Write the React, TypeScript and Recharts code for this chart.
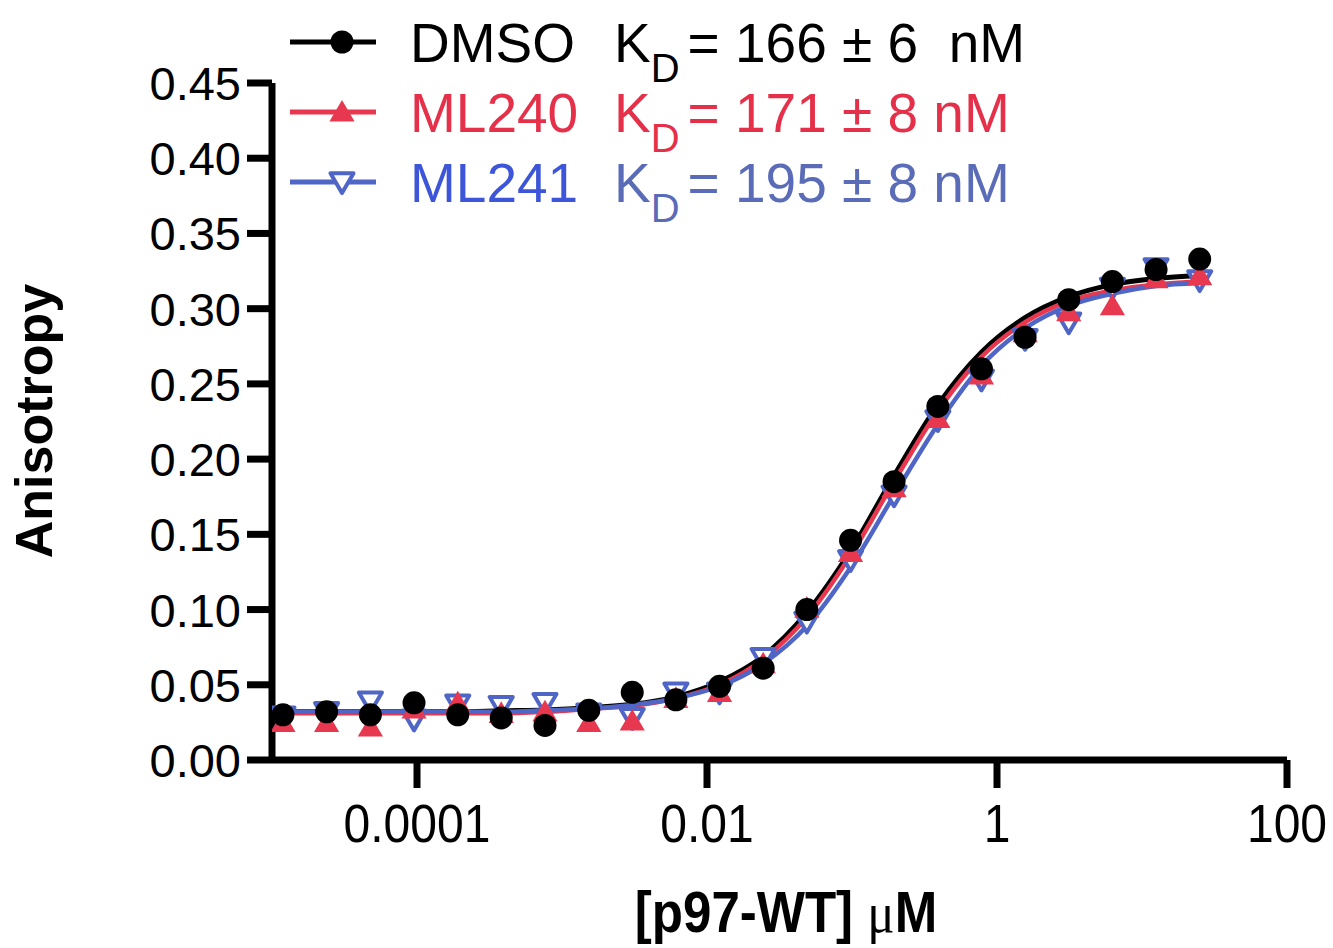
import React from 'react';
import { ComposedChart, XAxis, YAxis, Line } from 'recharts';

// p97-WT concentrations (µM), 2-fold dilution series, ascending
const concentrations = [0.0000119, 0.0000238, 0.0000477, 0.0000954, 0.000191, 0.000381, 0.000763, 0.00153, 0.00305, 0.0061, 0.0122, 0.0244, 0.0488, 0.0977, 0.195, 0.391, 0.781, 1.5625, 3.125, 6.25, 12.5, 25];

// measured anisotropy
const dmsoValues = [0.030, 0.032, 0.030, 0.038, 0.030, 0.028, 0.023, 0.033, 0.045, 0.040, 0.049, 0.061, 0.100, 0.146, 0.185, 0.235, 0.260, 0.281, 0.306, 0.318, 0.326, 0.333];
const ml240Values = [0.025, 0.025, 0.022, 0.034, 0.038, 0.031, 0.032, 0.025, 0.026, 0.041, 0.045, 0.064, 0.101, 0.138, 0.181, 0.227, 0.256, 0.284, 0.298, 0.302, 0.320, 0.322];
const ml241Values = [0.029, 0.032, 0.039, 0.027, 0.037, 0.036, 0.038, 0.031, 0.028, 0.045, 0.045, 0.068, 0.092, 0.133, 0.176, 0.226, 0.253, 0.280, 0.291, 0.314, 0.327, 0.319];

// fitted curves at each concentration
const dmsoFit = [0.032, 0.032, 0.032, 0.032, 0.032, 0.0327, 0.0333, 0.0347, 0.037, 0.042, 0.052, 0.069, 0.098, 0.139, 0.189, 0.236, 0.271, 0.294, 0.308, 0.316, 0.320, 0.322];
const ml240Fit = [0.031, 0.031, 0.031, 0.031, 0.031, 0.031, 0.032, 0.034, 0.036, 0.041, 0.050, 0.067, 0.095, 0.136, 0.185, 0.232, 0.268, 0.291, 0.305, 0.312, 0.316, 0.318];
const ml241Fit = [0.032, 0.032, 0.032, 0.032, 0.032, 0.032, 0.033, 0.034, 0.0365, 0.041, 0.049, 0.064, 0.089, 0.128, 0.176, 0.223, 0.262, 0.287, 0.302, 0.310, 0.315, 0.317];

const xTicks = [0.0001, 0.01, 1, 100];
const xTickLabels = ['0.0001', '0.01', '1', '100'];
const yTicks = [0, 0.05, 0.1, 0.15, 0.2, 0.25, 0.3, 0.35, 0.4, 0.45];

const seriesNames = ['DMSO', 'ML240', 'ML241'];
const kdLabels = ['= 166 ± 6  nM', '= 171 ± 8 nM', '= 195 ± 8 nM'];

const data = concentrations.map((x, i) => ({
  x,
  dmso: dmsoValues[i],
  ml240: ml240Values[i],
  ml241: ml241Values[i],
  dmsoFit: dmsoFit[i],
  ml240Fit: ml240Fit[i],
  ml241Fit: ml241Fit[i],
}));

const BLACK = '#000000';
const RED = '#e8384f';
const BLUE = '#4f66c6';
const FONT = '"Liberation Sans", Arial, Helvetica, sans-serif';

const CircleDot = (props: any) => {
  const { cx, cy } = props;
  if (cx == null || cy == null) return null;
  return <circle cx={cx} cy={cy} r={11.5} fill={BLACK} />;
};

const TriUp = (props: any) => {
  const { cx, cy } = props;
  if (cx == null || cy == null) return null;
  const s = 12;
  return <polygon points={`${cx},${cy - s} ${cx + s * 1.05},${cy + s * 0.8} ${cx - s * 1.05},${cy + s * 0.8}`} fill={RED} />;
};

const TriDown = (props: any) => {
  const { cx, cy } = props;
  if (cx == null || cy == null) return null;
  const s = 11;
  return <polygon points={`${cx - s * 1.05},${cy - s * 0.8} ${cx + s * 1.05},${cy - s * 0.8} ${cx},${cy + s}`} fill="#ffffff" stroke={BLUE} strokeWidth={4} strokeLinejoin="round" />;
};

const XTick = (props: any) => {
  const { x, y, payload } = props;
  const idx = xTicks.indexOf(payload.value);
  const label = idx >= 0 ? xTickLabels[idx] : String(payload.value);
  return (
    <text transform={`translate(${x},${y + 52}) scale(0.89,1)`} x={0} y={0} textAnchor="middle" fontSize={54} fontFamily={FONT} fill="#000">
      {label}
    </text>
  );
};

const YTick = (props: any) => {
  const { x, y, payload } = props;
  return (
    <text x={x} y={y + 17} textAnchor="end" fontSize={47} fontFamily={FONT} fill="#000">
      {Number(payload.value).toFixed(2)}
    </text>
  );
};

const legendColors = [BLACK, RED, BLUE];
const nameColors = [BLACK, '#e5304a', '#3d55d8'];
const kdColors = [BLACK, '#e5304a', '#5a6cb8'];

const LegendMarker = ({ i, cx, cy }: { i: number; cx: number; cy: number }) => {
  if (i === 0) return <CircleDot cx={cx} cy={cy} />;
  if (i === 1) return <TriUp cx={cx} cy={cy} />;
  return <TriDown cx={cx} cy={cy} />;
};

export default function App() {
  const rowsY = [42, 112, 182];
  return (
    <div style={{ position: 'absolute', left: 0, top: 0, width: 1333, height: 948, background: '#fff', fontFamily: FONT }}>
      <div style={{ position: 'absolute', left: 0, top: 0 }}>
        <ComposedChart
          width={1333}
          height={948}
          data={data}
          margin={{ top: 83, right: 46, bottom: 128, left: 172 }}
        >
          <XAxis
            dataKey="x"
            type="number"
            scale="log"
            domain={[0.00001, 100]}
            allowDataOverflow
            ticks={xTicks}
            height={60}
            axisLine={{ stroke: '#000', strokeWidth: 7 }}
            tickLine={{ stroke: '#000', strokeWidth: 7 }}
            tickSize={28}
            tick={<XTick />}
            interval={0}
          />
          <YAxis
            type="number"
            domain={[0, 0.45]}
            ticks={yTicks}
            width={100}
            axisLine={{ stroke: '#000', strokeWidth: 7 }}
            tickLine={{ stroke: '#000', strokeWidth: 7 }}
            tickSize={25}
            tickMargin={6}
            tick={<YTick />}
            interval={0}
          />
          <Line dataKey="ml241" stroke="none" dot={<TriDown />} activeDot={false} isAnimationActive={false} legendType="none" />
          <Line dataKey="ml240" stroke="none" dot={<TriUp />} activeDot={false} isAnimationActive={false} legendType="none" />
          <Line dataKey="dmso" stroke="none" dot={<CircleDot />} activeDot={false} isAnimationActive={false} legendType="none" />
          <Line dataKey="dmsoFit" type="monotone" stroke={BLACK} strokeWidth={5} dot={false} activeDot={false} isAnimationActive={false} legendType="none" />
          <Line dataKey="ml240Fit" type="monotone" stroke={RED} strokeWidth={4.5} dot={false} activeDot={false} isAnimationActive={false} legendType="none" />
          <Line dataKey="ml241Fit" type="monotone" stroke={BLUE} strokeWidth={4.5} dot={false} activeDot={false} isAnimationActive={false} legendType="none" />
        </ComposedChart>
      </div>
      <svg width={1333} height={948} style={{ position: 'absolute', left: 0, top: 0, pointerEvents: 'none' }}>
        {seriesNames.map((name, i) => {
          const y = rowsY[i];
          return (
            <g key={name}>
              <line x1={290} x2={376} y1={y} y2={y} stroke={legendColors[i]} strokeWidth={5} />
              <LegendMarker i={i} cx={342} cy={y} />
              <text x={410} y={y + 20} fontSize={55} fill={nameColors[i]} fontFamily={FONT}>{name}</text>
              <text x={614} y={y + 20} fontSize={55} fill={kdColors[i]} fontFamily={FONT} style={{ whiteSpace: 'pre' }}>
                <tspan>K</tspan>
                <tspan fontSize={40} dy={20}>D</tspan>
                <tspan dy={-20} dx={8}>{kdLabels[i]}</tspan>
              </text>
            </g>
          );
        })}
        <text x={52} y={421} transform="rotate(-90 52 421)" textAnchor="middle" fontSize={52} fontWeight="bold" fontFamily={FONT} fill="#000">Anisotropy</text>
        <text transform="translate(786,932) scale(0.88,1)" x={0} y={0} textAnchor="middle" fontSize={58} fontWeight="bold" fontFamily={FONT} fill="#000" style={{ whiteSpace: 'pre' }}>
          <tspan>[p97-WT] </tspan>
          <tspan fontWeight="normal" fontFamily='"Liberation Serif", serif'>μ</tspan>
          <tspan>M</tspan>
        </text>
      </svg>
    </div>
  );
}
